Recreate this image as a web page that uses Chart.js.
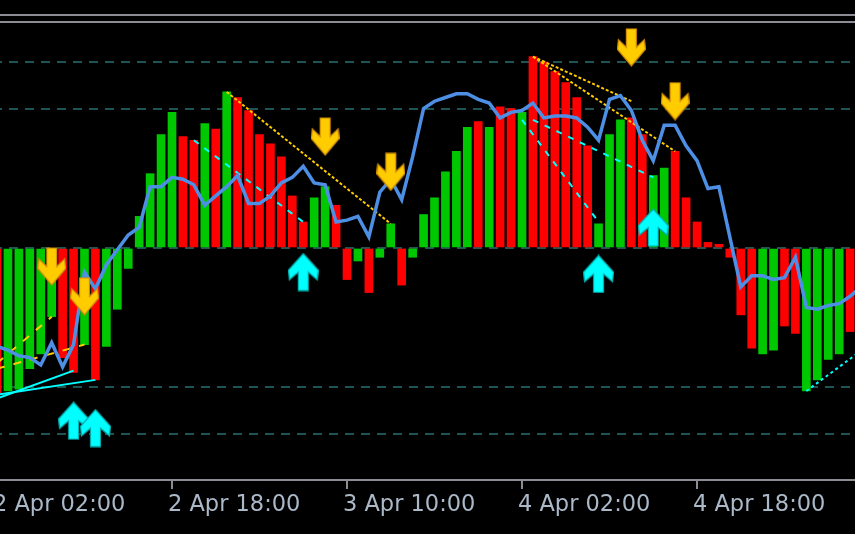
<!DOCTYPE html>
<html>
<head>
<meta charset="utf-8">
<script src="https://cdn.jsdelivr.net/npm/chart.js@4"></script>
<style>
  html, body { margin: 0; padding: 0; background: #000; overflow: hidden; }
  canvas { display: block; }
</style>
</head>
<body>
<canvas id="chart" width="855" height="534"></canvas>
<script>
// one bar per hour, bar 0 = 2 Apr 02:00
const histValues = [
  -78, -77, -76, -65, -57, -37, -59, -67, -52, -71,
  -53, -33, -11, 17, 40, 61, 73, 60, 58, 67,
  64, 84, 81, 74, 61, 56, 49, 28, 14, 27,
  33, 23, -17, -7, -24, -5, 13, -20, -5, 18,
  27, 41, 52, 65, 68, 65, 76, 75, 73, 103,
  100, 95, 89, 81, 55, 13, 61, 69, 70, 61,
  39, 43, 52, 27, 14, 3, 2, -5, -36, -54,
  -57, -55, -42, -46, -77, -71, -60, -57, -45
];
// G = rising bar, R = falling bar
const histDir = 'RGGGGGRRGRGGGGGGGRRGRGRRRRRRRGGRRGRGGRGGGGGGRGRRGRRRRRRGGGRRGGRRRRRRRRGGRRGGGG'.split('');
// signal line, last value belongs to the bar just past the right edge
const lineValues = [
  -53, -55, -58, -59, -63, -51, -64, -52, -13, -22,
  -9, -1, 7, 11, 33, 33, 38, 37, 34, 23,
  28, 33, 39, 24, 24, 28, 35, 38, 44, 35,
  34, 14, 15, 17, 6, 30, 37, 26, 49, 75,
  79, 81, 83, 83, 80, 78, 70, 73, 74, 78,
  70, 71, 71, 70, 65, 58, 80, 82, 74, 58,
  47, 66, 66, 55, 47, 32, 33, 6, -21, -15,
  -15, -17, -16, -5, -32, -33, -31, -30, -26, -21
];
const tickBars = [0, 16, 32, 48, 64];
const tickLabels = ['2 Apr 02:00', '2 Apr 18:00', '3 Apr 10:00', '4 Apr 02:00', '4 Apr 18:00'];
const levels = [-100, -75, 0, 75, 100];

const sellArrows = [[5, -10], [8, -26], [30, 60], [36, 41], [58, 108], [62, 79]];
const buyArrows = [[7, -93], [9, -97], [28, -13], [55, -14], [60, 11]];

const yellowTrends = [[[21, 84], [36, 13]], [[49, 103], [62, 52]], [[49, 103], [58, 79]]];
const yellowSteps = [[[0, -62], [5, -37]], [[0, -65], [8, -52]]];
const cyanTrends = [[[0, -81], [7, -66]], [[0, -79], [9, -71]]];
const cyanDots = [[[74, -77], [80, -51]]];
const cyanSteps = [[[18, 58], [28, 14]], [[48, 69], [55, 14]], [[49, 69], [60, 38]]];

function arrowImage(w, h, fill, edge, up) {
  const c = document.createElement('canvas');
  c.width = w; c.height = h;
  const g = c.getContext('2d');
  if (up) { g.translate(0, h); g.scale(1, -1); }
  const cx = w / 2;
  g.beginPath();
  g.moveTo(cx - 5, 1); g.lineTo(cx + 5, 1); g.lineTo(cx + 5, h * 0.5);
  g.lineTo(w - 1.5, h * 0.3); g.lineTo(w - 0.5, h * 0.55); g.lineTo(cx, h - 1);
  g.lineTo(0.5, h * 0.55); g.lineTo(1.5, h * 0.3); g.lineTo(cx - 5, h * 0.5);
  g.closePath();
  g.fillStyle = fill; g.fill();
  g.strokeStyle = edge; g.lineWidth = 1.2; g.stroke();
  return c;
}

const sellImg = arrowImage(29, 39, '#ffcc00', '#d08a00', false);
const buyImg = arrowImage(31, 39, '#00ffff', '#00a8a8', true);

const toPoints = arr => arr.map(([x, y]) => ({ x, y }));

function segments(list, color, width, dash) {
  return list.map(seg => ({
    type: 'line',
    data: toPoints(seg),
    borderColor: color,
    borderWidth: width,
    borderDash: dash,
    pointRadius: 0,
    order: 2
  }));
}

const datasets = [
  { type: 'scatter', data: toPoints(sellArrows), pointStyle: sellImg, order: 0 },
  { type: 'scatter', data: toPoints(buyArrows), pointStyle: buyImg, order: 0 },
  {
    type: 'line',
    data: lineValues.map((y, x) => ({ x, y })),
    borderColor: '#4d8fe4',
    borderWidth: 3.5,
    pointRadius: 0,
    order: 1
  },
  ...segments(yellowTrends, '#ffcc00', 2, [3, 2]),
  ...segments(yellowSteps, '#ffcc00', 2, [8, 9]),
  ...segments(cyanTrends, '#00ffff', 2, []),
  ...segments(cyanDots, '#00ffff', 2, [3, 3]),
  ...segments(cyanSteps, '#00ffff', 2, [6, 7]),
  {
    type: 'bar',
    data: histValues.map((y, x) => ({ x, y })),
    backgroundColor: histDir.map(d => d === 'G' ? '#00c800' : '#ff0000'),
    barThickness: 8,
    order: 5
  }
];

// black backdrop and the double separator line above the indicator window
const backdrop = {
  id: 'backdrop',
  beforeDraw(chart) {
    const ctx = chart.ctx;
    ctx.save();
    ctx.fillStyle = '#000';
    ctx.fillRect(0, 0, chart.width, chart.height);
    ctx.fillStyle = '#8c8c94';
    ctx.fillRect(0, 14, chart.width, 2);
    ctx.fillRect(0, 21, chart.width, 2);
    ctx.restore();
  }
};

new Chart(document.getElementById('chart'), {
  type: 'bar',
  data: { datasets },
  plugins: [backdrop],
  options: {
    responsive: false,
    animation: false,
    events: [],
    devicePixelRatio: 1,
    layout: { autoPadding: false, padding: { top: 23, left: 0, right: 0, bottom: 0 } },
    plugins: { legend: { display: false }, tooltip: { enabled: false } },
    scales: {
      x: {
        type: 'linear',
        min: 0.274,
        max: 78.446,
        offset: false,
        afterBuildTicks: s => { s.ticks = tickBars.map(v => ({ value: v })); },
        afterFit: s => { s.height = 54; s.paddingLeft = 0; s.paddingRight = 0; },
        ticks: {
          autoSkip: false,
          maxRotation: 0,
          align: 'start',
          labelOffset: -4,
          padding: 3,
          color: '#aab8c8',
          font: { family: 'DejaVu Sans', size: 22.5 },
          callback: v => tickLabels[tickBars.indexOf(v)]
        },
        grid: { offset: false, drawOnChartArea: false, drawTicks: true, tickLength: 9, color: '#8c8c94', lineWidth: 2 },
        border: { display: true, color: '#8c8c94', width: 2 }
      },
      y: {
        min: -124.9,
        max: 121.1,
        afterBuildTicks: s => { s.ticks = levels.map(v => ({ value: v })); },
        afterFit: s => { s.width = 0; },
        ticks: { display: false },
        grid: { color: '#1e5454', lineWidth: 2, drawTicks: false },
        border: { display: false, dash: [9, 7], dashOffset: 7 }
      }
    }
  }
});
</script>
</body>
</html>
